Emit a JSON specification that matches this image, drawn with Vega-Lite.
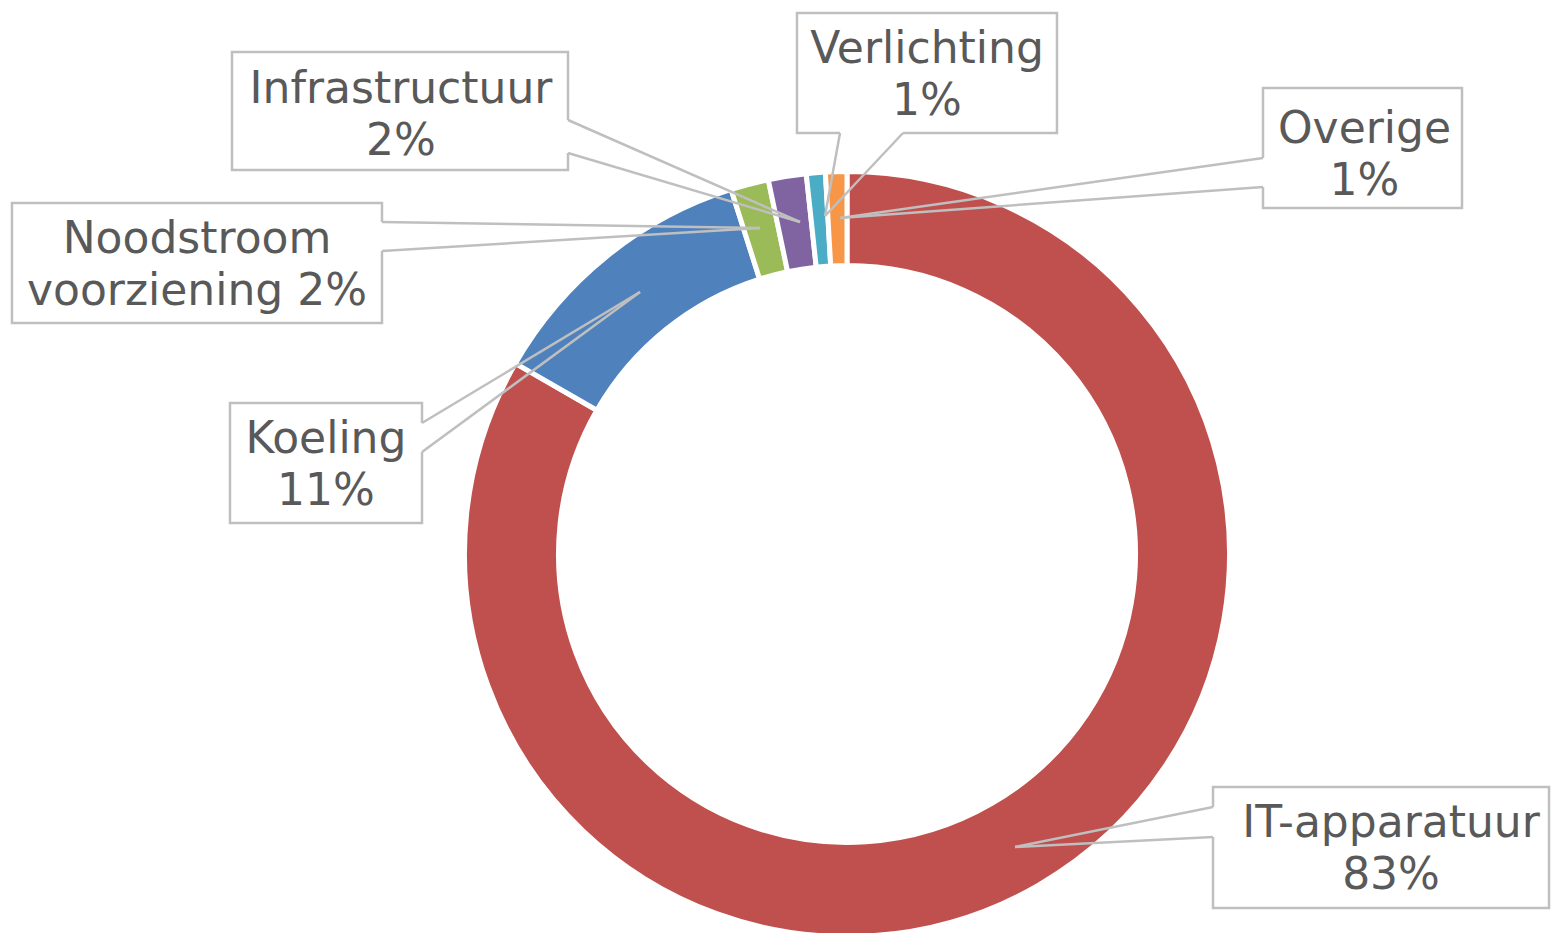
{
  "$schema": "https://vega.github.io/schema/vega-lite/v6.json",
  "width": 1551,
  "height": 933,
  "autosize": "none",
  "padding": 0,
  "background": "white",
  "config": {"view": {"stroke": null}},
  "datasets": {
    "slices": [
      {"cat": "IT-apparatuur", "value": 83.3, "rank": 1},
      {"cat": "Koeling", "value": 11.8, "rank": 2},
      {"cat": "Noodstroom voorziening", "value": 1.6, "rank": 3},
      {"cat": "Infrastructuur", "value": 1.6, "rank": 4},
      {"cat": "Verlichting", "value": 0.8, "rank": 5},
      {"cat": "Overige", "value": 0.9, "rank": 6}
    ],
    "labels": [
      {"cat": "IT-apparatuur", "text": "IT-apparatuur\n83%", "bx1": 0.9632, "bx2": 1.8474, "by1": -0.6132, "by2": -0.9316, "ax1": 0.9632, "ay1": -0.6658, "ax2": 0.9632, "ay2": -0.7447, "tx": 0.4421, "ty": -0.7711, "cx": 1.4316, "cy": -0.7447},
      {"cat": "Koeling", "text": "Koeling\n11%", "bx1": -1.6237, "bx2": -1.1184, "by1": 0.3974, "by2": 0.0816, "ax1": -1.1184, "ay1": 0.3447, "ax2": -1.1184, "ay2": 0.2684, "tx": -0.5447, "ty": 0.6895, "cx": -1.3711, "cy": 0.2658},
      {"cat": "Noodstroom voorziening", "text": "Noodstroom\nvoorziening 2%", "bx1": -2.1974, "bx2": -1.2237, "by1": 0.9237, "by2": 0.6079, "ax1": -1.2237, "ay1": 0.8737, "ax2": -1.2237, "ay2": 0.7974, "tx": -0.2289, "ty": 0.8579, "cx": -1.7105, "cy": 0.7921},
      {"cat": "Infrastructuur", "text": "Infrastructuur\n2%", "bx1": -1.6184, "bx2": -0.7342, "by1": 1.3211, "by2": 1.0105, "ax1": -0.7342, "ay1": 1.1421, "ax2": -0.7342, "ay2": 1.0553, "tx": -0.1237, "ty": 0.8737, "cx": -1.1737, "cy": 1.1868},
      {"cat": "Verlichting", "text": "Verlichting\n1%", "bx1": -0.1316, "bx2": 0.5526, "by1": 1.4237, "by2": 1.1079, "ax1": -0.0184, "ay1": 1.1079, "ax2": 0.1474, "ay2": 1.1079, "tx": -0.0579, "ty": 0.8895, "cx": 0.2105, "cy": 1.2921},
      {"cat": "Overige", "text": "Overige\n1%", "bx1": 1.0947, "bx2": 1.6184, "by1": 1.2263, "by2": 0.9105, "ax1": 1.0947, "ay1": 1.0421, "ax2": 1.0947, "ay2": 0.9658, "tx": -0.0184, "ty": 0.8842, "cx": 1.3618, "cy": 1.0816}
    ]
  },
  "layer": [
    {
      "data": {"name": "slices"},
      "mark": {"type": "arc", "outerRadius": 382.5, "innerRadius": 288.5, "stroke": "white", "strokeWidth": 5},
      "encoding": {
        "x": {"datum": 0, "type": "quantitative", "scale": {"domain": [-2.2289, 1.8526], "nice": false, "zero": false}, "axis": null},
        "y": {"datum": 0, "type": "quantitative", "scale": {"domain": [-0.99737, 1.45789], "nice": false, "zero": false}, "axis": null},
        "theta": {"field": "value", "type": "quantitative", "stack": true},
        "order": {"field": "rank", "type": "quantitative", "sort": "ascending"},
        "color": {
          "field": "cat", "type": "nominal", "legend": null,
          "scale": {
            "domain": ["IT-apparatuur", "Koeling", "Noodstroom voorziening", "Infrastructuur", "Verlichting", "Overige"],
            "range": ["#C0504D", "#4F81BD", "#9BBB59", "#8064A2", "#4BACC6", "#F79646"]
          }
        }
      }
    },
    {
      "data": {"name": "labels"},
      "mark": {"type": "rect", "fill": "white", "stroke": "#BFBFBF", "strokeWidth": 2.5},
      "encoding": {
        "x": {"field": "bx1", "type": "quantitative", "scale": {"domain": [-2.2289, 1.8526], "nice": false, "zero": false}, "axis": null},
        "x2": {"field": "bx2"},
        "y": {"field": "by1", "type": "quantitative", "scale": {"domain": [-0.99737, 1.45789], "nice": false, "zero": false}, "axis": null},
        "y2": {"field": "by2"}
      }
    },
    {
      "data": {"name": "labels"},
      "mark": {"type": "rule", "stroke": "white", "strokeWidth": 4},
      "encoding": {
        "x": {"field": "ax1", "type": "quantitative", "axis": null},
        "y": {"field": "ay1", "type": "quantitative", "axis": null},
        "x2": {"field": "ax2"},
        "y2": {"field": "ay2"}
      }
    },
    {
      "data": {"name": "labels"},
      "mark": {"type": "rule", "stroke": "#BFBFBF", "strokeWidth": 2.5},
      "encoding": {
        "x": {"field": "ax1", "type": "quantitative", "axis": null},
        "y": {"field": "ay1", "type": "quantitative", "axis": null},
        "x2": {"field": "tx"},
        "y2": {"field": "ty"}
      }
    },
    {
      "data": {"name": "labels"},
      "mark": {"type": "rule", "stroke": "#BFBFBF", "strokeWidth": 2.5},
      "encoding": {
        "x": {"field": "ax2", "type": "quantitative", "axis": null},
        "y": {"field": "ay2", "type": "quantitative", "axis": null},
        "x2": {"field": "tx"},
        "y2": {"field": "ty"}
      }
    },
    {
      "data": {"name": "labels"},
      "mark": {"type": "text", "font": "DejaVu Sans", "fontSize": 44, "color": "#595959", "align": "center", "baseline": "alphabetic", "lineBreak": "\n", "lineHeight": 52},
      "encoding": {
        "x": {"field": "cx", "type": "quantitative", "axis": null},
        "y": {"field": "cy", "type": "quantitative", "axis": null},
        "text": {"field": "text"}
      }
    }
  ]
}
